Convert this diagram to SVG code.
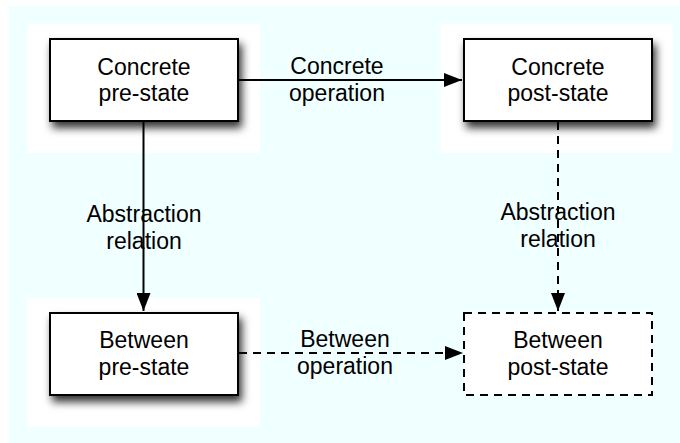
<svg xmlns="http://www.w3.org/2000/svg" width="680" height="443" viewBox="0 0 680 443">
<style>
.t{font-family:"Liberation Sans",Arial,sans-serif;font-size:23px;fill:#000;text-anchor:middle}
.box{fill:#fff;stroke:#000;stroke-width:2}
.halo{fill:#fff}
.e{fill:none;stroke:#000;stroke-width:2}
.d{stroke-dasharray:8 6}
</style>
<defs>
<filter id="sh" x="-20%" y="-30%" width="140%" height="170%">
<feDropShadow dx="3" dy="6" stdDeviation="4.5" flood-color="#000" flood-opacity="0.8"/>
</filter>
<marker id="ah" markerWidth="18" markerHeight="14" refX="18" refY="7" orient="auto" markerUnits="userSpaceOnUse">
<path d="M0,0 L18,7 L0,14 Z" fill="#000"/>
</marker>
</defs>
<rect x="9" y="6" width="671" height="437" fill="#f0ffff"/>
<g id="n1"><rect class="halo" x="27" y="24" width="233" height="129"/>
<rect class="box" x="50" y="39" width="188" height="82" filter="url(#sh)"/>
<text class="t" x="144" y="75">Concrete</text><text class="t" x="144" y="101">pre-state</text></g>
<g id="n2"><rect class="halo" x="441" y="24" width="232" height="129"/>
<rect class="box" x="464" y="39" width="188" height="82" filter="url(#sh)"/>
<text class="t" x="558" y="75">Concrete</text><text class="t" x="558" y="101">post-state</text></g>
<g id="n3"><rect class="halo" x="27" y="298" width="233" height="129"/>
<rect class="box" x="50" y="313" width="188" height="82" filter="url(#sh)"/>
<text class="t" x="144" y="348">Between</text><text class="t" x="144" y="375">pre-state</text></g>
<g id="n4"><rect class="box d" x="464" y="313" width="188" height="82"/>
<text class="t" x="558" y="348">Between</text><text class="t" x="558" y="375">post-state</text></g>
<g id="connectors">
<g id="e1"><line class="e" x1="239" y1="80" x2="462" y2="80" marker-end="url(#ah)"/>
<text class="t" x="337" y="74">Concrete</text><text class="t" x="337" y="101">operation</text></g>
<g id="e2"><line class="e" x1="143.5" y1="122" x2="143.5" y2="311" marker-end="url(#ah)"/>
<text class="t" x="144" y="222">Abstraction</text><text class="t" x="144" y="249">relation</text></g>
<g id="e3"><line class="e d" x1="558" y1="122" x2="558" y2="311" marker-end="url(#ah)"/>
<text class="t" x="558" y="220">Abstraction</text><text class="t" x="558" y="247">relation</text></g>
<g id="e4"><line class="e d" x1="239" y1="353" x2="463" y2="353" marker-end="url(#ah)"/>
<text class="t" x="345" y="347">Between</text><text class="t" x="345" y="374">operation</text></g>
</g>
</svg>
